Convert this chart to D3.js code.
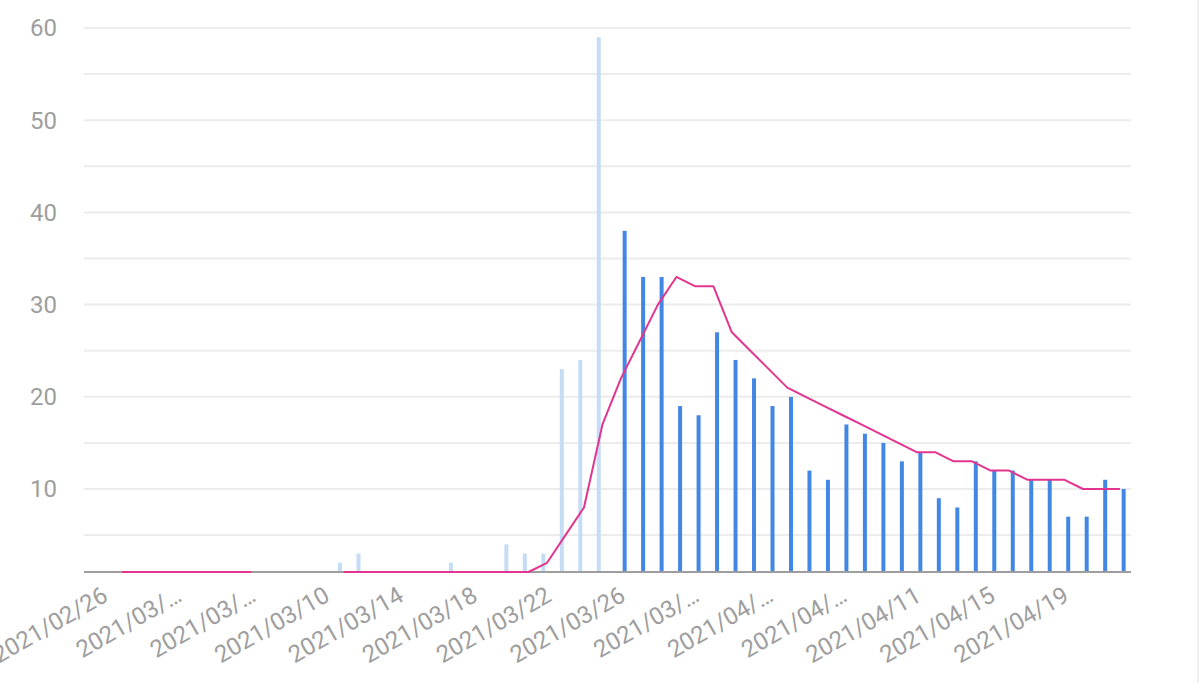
<!DOCTYPE html>
<html>
<head>
<meta charset="utf-8">
<script src="https://cdn.jsdelivr.net/npm/d3@7"></script>
<style>
    body { margin: 0; background: #fff; }
    svg { display: block; font-family: Roboto, "Noto Sans", sans-serif; }
</style>
</head>
<body>
<script>
// one entry per day, 2021/02/26 .. 2021/04/22
let dates = [
    "2021/02/26", "2021/02/27", "2021/02/28", "2021/03/01", "2021/03/02", "2021/03/03", "2021/03/04",
    "2021/03/05", "2021/03/06", "2021/03/07", "2021/03/08", "2021/03/09", "2021/03/10", "2021/03/11",
    "2021/03/12", "2021/03/13", "2021/03/14", "2021/03/15", "2021/03/16", "2021/03/17", "2021/03/18",
    "2021/03/19", "2021/03/20", "2021/03/21", "2021/03/22", "2021/03/23", "2021/03/24", "2021/03/25",
    "2021/03/26", "2021/03/27", "2021/03/28", "2021/03/29", "2021/03/30", "2021/03/31", "2021/04/01",
    "2021/04/02", "2021/04/03", "2021/04/04", "2021/04/05", "2021/04/06", "2021/04/07", "2021/04/08",
    "2021/04/09", "2021/04/10", "2021/04/11", "2021/04/12", "2021/04/13", "2021/04/14", "2021/04/15",
    "2021/04/16", "2021/04/17", "2021/04/18", "2021/04/19", "2021/04/20", "2021/04/21", "2021/04/22"
];

// light bars (before 03/26)
let lightValues = [
    0, 0, 0, 0, 0, 0, 0, 0, 0, 0, 0, 0, 0, 2,
    3, 0, 0, 0, 0, 2, 0, 0, 4, 3, 3, 23, 24, 59,
    0, 0, 0, 0, 0, 0, 0, 0, 0, 0, 0, 0, 0, 0,
    0, 0, 0, 0, 0, 0, 0, 0, 0, 0, 0, 0, 0, 0
];

// dark bars (from 03/26)
let darkValues = [
    0, 0, 0, 0, 0, 0, 0, 0, 0, 0, 0, 0, 0, 0,
    0, 0, 0, 0, 0, 0, 0, 0, 0, 0, 0, 0, 0, 0,
    38, 33, 33, 19, 18, 27, 24, 22, 19, 20, 12, 11, 17, 16,
    15, 13, 14, 9, 8, 13, 12, 12, 11, 11, 7, 7, 11, 10
];

// pink line, null = gap
let lineValues = [
    null, 0, 0, 0, 0, 0, 0, 0, 0, null, null, null, null, 0,
    0, 0, 0, 0, 0, 0, 0, 0, 0, 0, 2, 5, 8, 17,
    22, 26, 30, 33, 32, 32, 27, 25, 23, 21, 20, 19, 18, 17,
    16, 15, 14, 14, 13, 13, 12, 12, 11, 11, 11, 10, 10, 10
];

let tickDates = ["2021/02/26", "2021/03/02", "2021/03/06", "2021/03/10", "2021/03/14", "2021/03/18", "2021/03/22",
    "2021/03/26", "2021/03/30", "2021/04/03", "2021/04/07", "2021/04/11", "2021/04/15", "2021/04/19"];
let tickLabels = ["2021/02/26", "2021/03/…", "2021/03/…", "2021/03/10", "2021/03/14", "2021/03/18", "2021/03/22",
    "2021/03/26", "2021/03/…", "2021/04/…", "2021/04/…", "2021/04/11", "2021/04/15", "2021/04/19"];

let yTicks = [10, 20, 30, 40, 50, 60];
let yGrid = [5, 10, 15, 20, 25, 30, 35, 40, 45, 50, 55, 60];

draw();

function draw() {
    let width = 1200;
    let height = 683;
    let left = 84, right = 1131, top = 28, bottom = 572;

    let svg = d3.select("body")
        .append("svg")
        .attr("width", width)
        .attr("height", height);

    let x = d3.scaleBand()
        .domain(dates)
        .range([left, right])
        .paddingInner(0)
        .paddingOuter(0.325)
        .align(0.85);

    let sub = d3.scaleBand()
        .domain(["light", "dark"])
        .range([0, x.bandwidth()])
        .paddingInner(0.46)
        .paddingOuter(0.48);

    let y = d3.scaleLinear()
        .domain([1, 60])
        .range([bottom, top])
        .clamp(true);

    // grid
    svg.append("g")
        .selectAll("line")
        .data(yGrid)
        .enter()
        .append("line")
        .attr("x1", left)
        .attr("x2", right)
        .attr("y1", d => y(d))
        .attr("y2", d => y(d))
        .attr("stroke", "#ececec")
        .attr("stroke-width", 2);

    svg.append("line")
        .attr("x1", 1198).attr("x2", 1198)
        .attr("y1", 0).attr("y2", height)
        .attr("stroke", "#f0f0f0")
        .attr("stroke-width", 2);

    // y labels
    svg.append("g")
        .selectAll("text")
        .data(yTicks)
        .enter()
        .append("text")
        .attr("x", 57)
        .attr("y", d => y(d))
        .attr("dy", "0.35em")
        .attr("text-anchor", "end")
        .attr("font-size", 24)
        .attr("fill", "#9e9e9e")
        .text(d => d);

    // bars
    let barData = [];
    dates.forEach(function (d, i) {
        if (lightValues[i] > 0) barData.push({ date: d, key: "light", v: lightValues[i] });
        if (darkValues[i] > 0) barData.push({ date: d, key: "dark", v: darkValues[i] });
    });

    svg.append("g")
        .selectAll("rect")
        .data(barData)
        .enter()
        .append("rect")
        .attr("x", d => x(d.date) + sub(d.key))
        .attr("width", sub.bandwidth())
        .attr("y", d => y(d.v))
        .attr("height", d => y(1) - y(d.v))
        .attr("fill", d => d.key == "light" ? "#c5dcf7" : "#4387e5");

    // baseline
    svg.append("line")
        .attr("x1", left)
        .attr("x2", right)
        .attr("y1", bottom)
        .attr("y2", bottom)
        .attr("stroke", "#9e9e9e")
        .attr("stroke-width", 2);

    // line
    let line = d3.line()
        .defined(d => d.v != null)
        .x(d => x(d.date) + x.bandwidth() / 2)
        .y(d => y(d.v));

    svg.append("path")
        .datum(dates.map((d, i) => ({ date: d, v: lineValues[i] })))
        .attr("d", line)
        .attr("fill", "none")
        .attr("stroke", "#e2358f")
        .attr("stroke-width", 2)
        .attr("stroke-linejoin", "round");

    // x labels
    svg.append("g")
        .selectAll("text")
        .data(tickDates)
        .enter()
        .append("text")
        .attr("transform", d => "translate(" + (x(d) + x.bandwidth() / 2 + 6) + ",600) rotate(-30)")
        .attr("text-anchor", "end")
        .attr("font-size", 24)
        .attr("fill", "#9e9e9e")
        .text((d, i) => tickLabels[i]);
}
</script>
</body>
</html>
